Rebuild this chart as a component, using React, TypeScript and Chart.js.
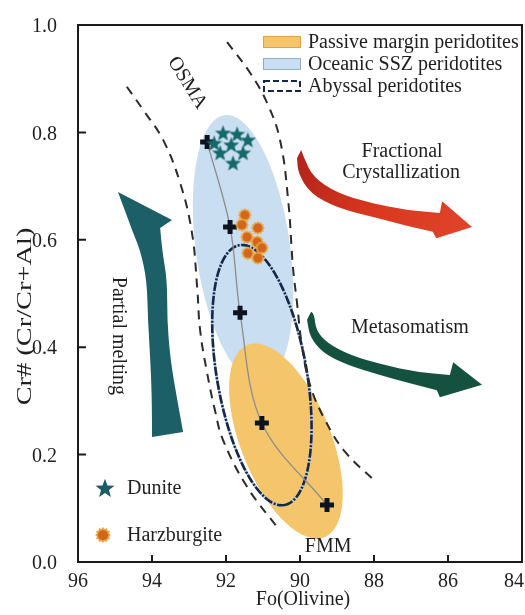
import { useEffect, useRef } from "react";
import { Chart, registerables } from "chart.js";

Chart.register(...registerables);

const SERIF = '"Liberation Serif", "Times New Roman", Times, serif';
const INK = "#1f1f1f";

// Axis ticks
const foTicks = [96, 94, 92, 90, 88, 86, 84];
const crTicks = [0, 0.2, 0.4, 0.6, 0.8, 1.0];

// Melting trend from FMM (Fo, Cr#)
const meltFo = [92.51, 91.89, 91.62, 91.03, 89.27];
const meltCr = [0.782, 0.624, 0.464, 0.259, 0.106];

// Dunite spinel-olivine pairs
const duniteFo = [92.08, 91.7, 91.41, 92.32, 91.86, 92.16, 91.54, 91.81];
const duniteCr = [0.799, 0.797, 0.786, 0.78, 0.777, 0.762, 0.762, 0.743];

// Harzburgite spinel-olivine pairs
const harzFo = [91.49, 91.57, 91.14, 91.43, 91.16, 91.03, 91.41, 91.14];
const harzCr = [0.646, 0.628, 0.622, 0.605, 0.596, 0.585, 0.575, 0.566];

// OSMA (olivine-spinel mantle array) envelope
const osmaLeftFo = [94.68, 94.24, 93.7, 93.24, 92.92, 92.78, 92.7, 92.51, 92.3, 92.08, 91.43, 90.62];
const osmaLeftCr = [0.885, 0.842, 0.786, 0.706, 0.613, 0.512, 0.432, 0.352, 0.283, 0.227, 0.14, 0.065];
const osmaRightFo = [91.97, 91.35, 90.89, 90.54, 90.32, 90.19, 90.08, 89.95, 89.73, 89.32, 88.78, 87.95];
const osmaRightCr = [0.968, 0.911, 0.855, 0.786, 0.674, 0.549, 0.482, 0.404, 0.33, 0.264, 0.205, 0.149];

// Fields: [centreFo, centreCr, majorFo, majorCr, minorFo, minorCr]
const sszField = [91.54, 0.583, -0.5, -0.249, -1.26, 0.012];
const passiveField = [90.38, 0.2253, -1.04, -0.179, -1.13, 0.031];
const abyssalField = [91.03, 0.348, -0.608, -0.242, -1.197, 0.0143];

// Trend arrows, [Fo, Cr#] outline points
const meltArrowHead = [[94.92, 0.689], [93.46, 0.637]];
const meltArrowRight = [[93.78, 0.622], [93.73, 0.581], [93.59, 0.525], [93.59, 0.451], [93.51, 0.382], [93.38, 0.326], [93.16, 0.242]];
const meltArrowLeft = [[94.0, 0.233], [94.0, 0.302], [94.05, 0.382], [94.11, 0.451], [94.14, 0.525], [94.32, 0.581], [94.51, 0.613]];

const fcArrowInner = [[89.97, 0.767], [89.89, 0.752], [89.65, 0.717], [89.0, 0.687], [88.11, 0.669], [87.11, 0.655], [86.22, 0.65]];
const fcArrowHead = [[86.16, 0.672], [85.35, 0.624], [86.32, 0.603]];
const fcArrowOuter = [[86.41, 0.615], [87.03, 0.624], [87.92, 0.641], [89.0, 0.659], [89.73, 0.687], [90.05, 0.724], [90.08, 0.752]];

const metArrowInner = [[89.7, 0.466], [89.62, 0.464], [89.57, 0.432], [89.27, 0.408], [88.65, 0.385], [87.76, 0.367], [86.84, 0.354], [85.95, 0.348]];
const metArrowHead = [[85.86, 0.372], [85.08, 0.33], [86.22, 0.307]];
const metArrowOuter = [[86.3, 0.32], [87.03, 0.333], [87.84, 0.348], [88.73, 0.367], [89.38, 0.389], [89.73, 0.419], [89.81, 0.451]];

// Text labels placed in data space: [text, Fo, Cr#, rotation in degrees]
const labels: [string, number, number, number][] = [
  ["OSMA", 93.05, 0.892, 58],
  ["Fractional", 87.24, 0.764, 0],
  ["Crystallization", 87.27, 0.724, 0],
  ["Metasomatism", 87.03, 0.436, 0],
  ["Partial melting", 94.92, 0.421, 90],
  ["FMM", 89.24, 0.028, 0],
];

const fieldLegend = ["Passive margin peridotites", "Oceanic SSZ peridotites", "Abyssal peridotites"];
const sampleLegend = ["Dunite", "Harzburgite"];

const COLORS = {
  ssz: "#c9def0",
  sszEdge: "#93aecb",
  passive: "#f5c56c",
  passiveEdge: "#d9a54a",
  abyssal: "#16284a",
  dunite: "#17686a",
  duniteKey: "#1d5b66",
  harzCore: "#d2661c",
  harzRim: "#eba43e",
  melt: "#1c5f66",
  metaso: "#14513f",
};

function makeStar(r: number, color: string) {
  const c = document.createElement("canvas");
  const s = Math.ceil(r * 2 + 2);
  c.width = s;
  c.height = s;
  const g = c.getContext("2d")!;
  g.translate(s / 2, s / 2 + r * 0.08);
  g.beginPath();
  for (let i = 0; i < 10; i++) {
    const rr = i % 2 === 0 ? r : r * 0.42;
    const a = -Math.PI / 2 + (i * Math.PI) / 5;
    g.lineTo(rr * Math.cos(a), rr * Math.sin(a));
  }
  g.closePath();
  g.fillStyle = color;
  g.fill();
  return c;
}

function makeSun(r: number) {
  const c = document.createElement("canvas");
  const s = Math.ceil(r * 2 + 2);
  c.width = s;
  c.height = s;
  const g = c.getContext("2d")!;
  g.translate(s / 2, s / 2);
  g.beginPath();
  for (let i = 0; i < 24; i++) {
    const rr = i % 2 === 0 ? r : r * 0.78;
    const a = (i * Math.PI) / 12;
    g.lineTo(rr * Math.cos(a), rr * Math.sin(a));
  }
  g.closePath();
  g.fillStyle = COLORS.harzRim;
  g.fill();
  g.beginPath();
  g.arc(0, 0, r * 0.64, 0, Math.PI * 2);
  g.fillStyle = COLORS.harzCore;
  g.fill();
  return c;
}

type Pt = [number, number];

function smoothTo(ctx: CanvasRenderingContext2D, pts: Pt[], move: boolean) {
  if (move) ctx.moveTo(pts[0][0], pts[0][1]);
  else ctx.lineTo(pts[0][0], pts[0][1]);
  for (let i = 1; i < pts.length - 1; i++) {
    const mx = (pts[i][0] + pts[i + 1][0]) / 2;
    const my = (pts[i][1] + pts[i + 1][1]) / 2;
    ctx.quadraticCurveTo(pts[i][0], pts[i][1], mx, my);
  }
  const l = pts[pts.length - 1];
  ctx.lineTo(l[0], l[1]);
}

function makeDecorations(keyStar: HTMLCanvasElement, keySun: HTMLCanvasElement) {
  return {
    id: "decorations",
    beforeDatasetsDraw(chart: any) {
      const { ctx, chartArea: a, scales } = chart;
      const x = scales.x;
      const y = scales.y;
      const P = (p: number[]): Pt => [x.getPixelForValue(p[0]), y.getPixelForValue(p[1])];

      const ellipsePath = (f: number[]) => {
        const c = P([f[0], f[1]]);
        const ma = P([f[0] + f[2], f[1] + f[3]]);
        const mi = P([f[0] + f[4], f[1] + f[5]]);
        const ax = ma[0] - c[0], ay = ma[1] - c[1];
        const bx = mi[0] - c[0], by = mi[1] - c[1];
        ctx.beginPath();
        for (let i = 0; i <= 120; i++) {
          const t = (i / 120) * Math.PI * 2;
          const px = c[0] + ax * Math.cos(t) + bx * Math.sin(t);
          const py = c[1] + ay * Math.cos(t) + by * Math.sin(t);
          if (i === 0) ctx.moveTo(px, py);
          else ctx.lineTo(px, py);
        }
        ctx.closePath();
      };

      ctx.save();
      ctx.beginPath();
      ctx.rect(a.left, a.top, a.right - a.left, a.bottom - a.top);
      ctx.clip();

      ellipsePath(sszField);
      ctx.fillStyle = COLORS.ssz;
      ctx.fill();
      ellipsePath(passiveField);
      ctx.fillStyle = COLORS.passive;
      ctx.fill();

      // abyssal field outline: dark dash-dot line over a pale underlay
      ellipsePath(abyssalField);
      ctx.strokeStyle = "#b7cbe2";
      ctx.lineWidth = 2.6;
      ctx.stroke();
      ctx.setLineDash([9, 1.6, 2, 1.6]);
      ctx.strokeStyle = COLORS.abyssal;
      ctx.stroke();
      ctx.setLineDash([]);

      // partial melting arrow
      ctx.beginPath();
      const mh = meltArrowHead.map(P);
      ctx.moveTo(mh[0][0], mh[0][1]);
      ctx.lineTo(mh[1][0], mh[1][1]);
      smoothTo(ctx, meltArrowRight.map(P), false);
      smoothTo(ctx, meltArrowLeft.map(P), false);
      ctx.closePath();
      ctx.fillStyle = COLORS.melt;
      ctx.fill();

      // fractional crystallization arrow
      const fi = fcArrowInner.map(P);
      const fh = fcArrowHead.map(P);
      ctx.beginPath();
      smoothTo(ctx, fi, true);
      fh.forEach((p) => ctx.lineTo(p[0], p[1]));
      smoothTo(ctx, fcArrowOuter.map(P), false);
      ctx.closePath();
      const grad = ctx.createLinearGradient(fi[0][0], fi[0][1], fh[1][0], fh[1][1]);
      grad.addColorStop(0, "#b3241a");
      grad.addColorStop(0.5, "#d9381f");
      grad.addColorStop(1, "#e0442a");
      ctx.fillStyle = grad;
      ctx.fill();

      // metasomatism arrow
      ctx.beginPath();
      smoothTo(ctx, metArrowInner.map(P), true);
      metArrowHead.map(P).forEach((p) => ctx.lineTo(p[0], p[1]));
      smoothTo(ctx, metArrowOuter.map(P), false);
      ctx.closePath();
      ctx.fillStyle = COLORS.metaso;
      ctx.fill();

      ctx.restore();
    },
    afterDraw(chart: any) {
      const { ctx, chartArea: a, scales, width } = chart;
      const x = scales.x;
      const y = scales.y;
      ctx.save();

      // frame and inward ticks
      ctx.strokeStyle = "#1a1a1a";
      ctx.lineWidth = 2;
      ctx.strokeRect(a.left, a.top, a.right - a.left, a.bottom - a.top);
      ctx.beginPath();
      foTicks.forEach((v) => {
        const px = x.getPixelForValue(v);
        if (px - a.left < 3 || a.right - px < 3) return;
        ctx.moveTo(px, a.bottom);
        ctx.lineTo(px, a.bottom - 7);
      });
      crTicks.forEach((v) => {
        const py = y.getPixelForValue(v);
        if (py - a.top < 3 || a.bottom - py < 3) return;
        ctx.moveTo(a.left, py);
        ctx.lineTo(a.left + 8, py);
      });
      ctx.stroke();

      ctx.fillStyle = INK;
      ctx.font = `20px ${SERIF}`;

      // Fo tick labels, kept inside the canvas at the right edge
      ctx.textAlign = "center";
      ctx.textBaseline = "alphabetic";
      foTicks.forEach((v) => {
        const t = String(v);
        const w = ctx.measureText(t).width;
        const px = Math.min(x.getPixelForValue(v), width - w / 2 - 1);
        ctx.fillText(t, px, a.bottom + 25);
      });

      ctx.textBaseline = "middle";

      // in-plot labels
      labels.forEach(([t, fo, cr, rot]) => {
        ctx.save();
        ctx.translate(x.getPixelForValue(fo), y.getPixelForValue(cr));
        ctx.rotate((rot * Math.PI) / 180);
        ctx.fillText(t, 0, 0);
        ctx.restore();
      });

      // axis titles
      ctx.fillText("Fo(Olivine)", (a.left + a.right) / 2 + 3, a.bottom + 38);
      ctx.save();
      ctx.translate(a.left - 52, (a.top + a.bottom) / 2 + 23);
      ctx.rotate(-Math.PI / 2);
      ctx.scale(1.42, 1);
      ctx.fillText("Cr# (Cr/Cr+Al)", 0, 0);
      ctx.restore();

      // field key, top right
      const kx = a.left + 185;
      const rows = [a.top + 17, a.top + 39, a.top + 61];
      ctx.lineWidth = 1;
      ctx.fillStyle = COLORS.passive;
      ctx.fillRect(kx, rows[0] - 6, 38, 12);
      ctx.strokeStyle = COLORS.passiveEdge;
      ctx.strokeRect(kx + 0.5, rows[0] - 5.5, 37, 11);
      ctx.fillStyle = COLORS.ssz;
      ctx.fillRect(kx, rows[1] - 6, 38, 12);
      ctx.strokeStyle = COLORS.sszEdge;
      ctx.strokeRect(kx + 0.5, rows[1] - 5.5, 37, 11);
      ctx.lineWidth = 2;
      ctx.setLineDash([6, 3]);
      ctx.strokeStyle = COLORS.abyssal;
      ctx.strokeRect(kx + 1, rows[2] - 5, 36, 10);
      ctx.setLineDash([]);
      ctx.fillStyle = INK;
      ctx.textAlign = "left";
      fieldLegend.forEach((t, i) => ctx.fillText(t, kx + 45, rows[i] + 1));

      // sample key, bottom left
      const sy = [a.bottom - 74, a.bottom - 27];
      ctx.drawImage(keyStar, a.left + 27 - keyStar.width / 2, sy[0] - keyStar.height / 2);
      ctx.drawImage(keySun, a.left + 25 - keySun.width / 2, sy[1] - keySun.height / 2);
      sampleLegend.forEach((t, i) => ctx.fillText(t, a.left + 49, sy[i] + 1));

      ctx.restore();
    },
  };
}

export default function App() {
  const ref = useRef<HTMLCanvasElement>(null);

  useEffect(() => {
    const canvas = ref.current!;
    const starImg = makeStar(8.5, COLORS.dunite);
    const sunImg = makeSun(7);
    const keyStar = makeStar(10, COLORS.duniteKey);
    const keySun = makeSun(8);
    const pts = (xs: number[], ys: number[]) => xs.map((v, i) => ({ x: v, y: ys[i] }));
    const tickFont = { family: SERIF, size: 20 };

    const chart: any = new Chart(canvas, {
      type: "scatter",
      data: {
        datasets: [
          {
            type: "scatter",
            label: "Harzburgite",
            data: pts(harzFo, harzCr),
            pointStyle: sunImg as any,
            pointRadius: 7,
          },
          {
            type: "scatter",
            label: "Dunite",
            data: pts(duniteFo, duniteCr),
            pointStyle: starImg as any,
            pointRadius: 8,
          },
          {
            type: "line",
            label: "Melting trend",
            data: pts(meltFo, meltCr),
            borderColor: "#8d8d8d",
            borderWidth: 1.3,
            tension: 0.35,
            pointStyle: "cross",
            pointRadius: 7,
            pointBorderWidth: 5,
            pointBorderColor: "#0d1420",
            pointBackgroundColor: "#0d1420",
          },
          {
            type: "line",
            label: "OSMA lower",
            data: pts(osmaLeftFo, osmaLeftCr),
            borderColor: "#2b2b2b",
            borderWidth: 2,
            borderDash: [9, 7],
            tension: 0.4,
            pointRadius: 0,
          },
          {
            type: "line",
            label: "OSMA upper",
            data: pts(osmaRightFo, osmaRightCr),
            borderColor: "#2b2b2b",
            borderWidth: 2,
            borderDash: [9, 7],
            tension: 0.4,
            pointRadius: 0,
          },
        ] as any,
      },
      options: {
        animation: false,
        responsive: false,
        devicePixelRatio: 1,
        layout: { padding: { left: 0, right: 3, top: 25, bottom: 0 }, autoPadding: false } as any,
        plugins: { legend: { display: false }, tooltip: { enabled: false } },
        scales: {
          x: {
            type: "linear",
            reverse: true,
            min: 84,
            max: 96,
            grid: { display: false },
            border: { display: false },
            afterBuildTicks: (s: any) => {
              s.ticks = foTicks.map((v) => ({ value: v }));
            },
            afterFit: (s: any) => {
              s.height = 53;
              s.paddingLeft = 0;
              s.paddingRight = 0;
            },
            ticks: { display: false },
          },
          y: {
            type: "linear",
            min: 0,
            max: 1,
            grid: { display: false },
            border: { display: false },
            afterBuildTicks: (s: any) => {
              s.ticks = crTicks.map((v) => ({ value: v }));
            },
            afterFit: (s: any) => {
              s.width = 78;
              s.paddingTop = 0;
              s.paddingBottom = 0;
            },
            ticks: {
              font: tickFont,
              color: INK,
              padding: 13,
              labelOffset: 2,
              callback: (v: any) => Number(v).toFixed(1),
            },
          },
        },
      },
      plugins: [makeDecorations(keyStar, keySun)],
    });

    return () => chart.destroy();
  }, []);

  return (
    <canvas
      ref={ref}
      width={525}
      height={615}
      style={{ position: "absolute", left: 0, top: 0, width: 525, height: 615, background: "#ffffff" }}
    />
  );
}
